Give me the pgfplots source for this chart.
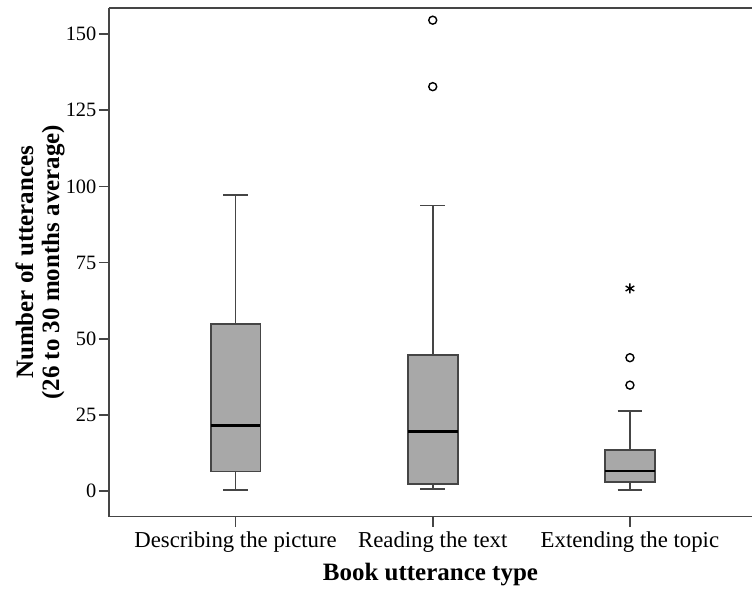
\documentclass[border=0pt]{standalone}
\usepackage{fontspec}
\setmainfont{Liberation Serif}
\usepackage{pgfplots}
\usepgfplotslibrary{statistics}
\pgfplotsset{compat=1.18}
\definecolor{boxgray}{HTML}{A8A8A8}
\definecolor{linegray}{HTML}{454545}

\begin{document}
\begin{tikzpicture}
\begin{axis}[
  scale only axis, width=322pt, height=254.5pt,
  xmin=-0.643, xmax=2.62, ymin=-8.3, ymax=158.5,
  axis lines=left, axis line style={-, linegray, line width=0.8pt},
  xtick={0,1,2},
  xticklabels={Describing the picture, Reading the text, Extending the topic},
  ytick={0,25,...,150},
  tick align=outside, major tick length=5pt,
  tick style={linegray, line width=0.8pt},
  yticklabel style={font=\fontsize{10.2}{12}\selectfont, inner xsep=1pt},
  xticklabel style={font=\fontsize{11.4}{13}\selectfont, inner ysep=2.5pt},
  /pgf/number format/assume math mode=true,
  xlabel={Book utterance type},
  xlabel style={font=\fontsize{12.5}{14}\selectfont\bfseries, yshift=1pt},
  ylabel={Number of utterances\\(26 to 30 months average)},
  ylabel style={align=center, font=\fontsize{12.5}{13}\selectfont\bfseries},
  ylabel shift=-4pt,
  boxplot/draw direction=y,
  boxplot/every box/.style={draw=linegray, fill=boxgray, line width=0.9pt},
  boxplot/every whisker/.style={linegray, line width=0.9pt},
  boxplot/every median/.style={black, line width=1.3pt},
]
\addplot[draw=linegray, boxplot prepared={draw position=0, lower whisker=0.45,
  lower quartile=6.5, median=21.5, upper quartile=54.8, upper whisker=97.1,
  box extend=0.253, whisker extend=0.125}] coordinates {};
\addplot[draw=linegray, boxplot prepared={draw position=1, lower whisker=0.85,
  lower quartile=2.5, median=19.6, upper quartile=44.8, upper whisker=93.7,
  box extend=0.253, whisker extend=0.125}] coordinates {};
\addplot[draw=linegray, boxplot prepared={draw position=2, lower whisker=0.5,
  lower quartile=3.0, median=6.7, upper quartile=13.4, upper whisker=26.3,
  box extend=0.253, whisker extend=0.125}] coordinates {};
% outliers
\addplot[only marks, mark=o, mark size=2pt, black, line width=0.7pt]
  coordinates {(1,154.5) (1,132.7) (2,43.8) (2,34.8)};
\addplot[only marks, mark=asterisk, mark size=2.5pt, black, line width=0.7pt]
  coordinates {(2,66.5)};
\draw[linegray, line width=0.8pt] (rel axis cs:0,1) -- (rel axis cs:1,1);
\end{axis}
\path ([yshift=4pt]current axis.north);
\path ([xshift=-4.5pt]current axis.outer west);
\end{tikzpicture}
\end{document}
